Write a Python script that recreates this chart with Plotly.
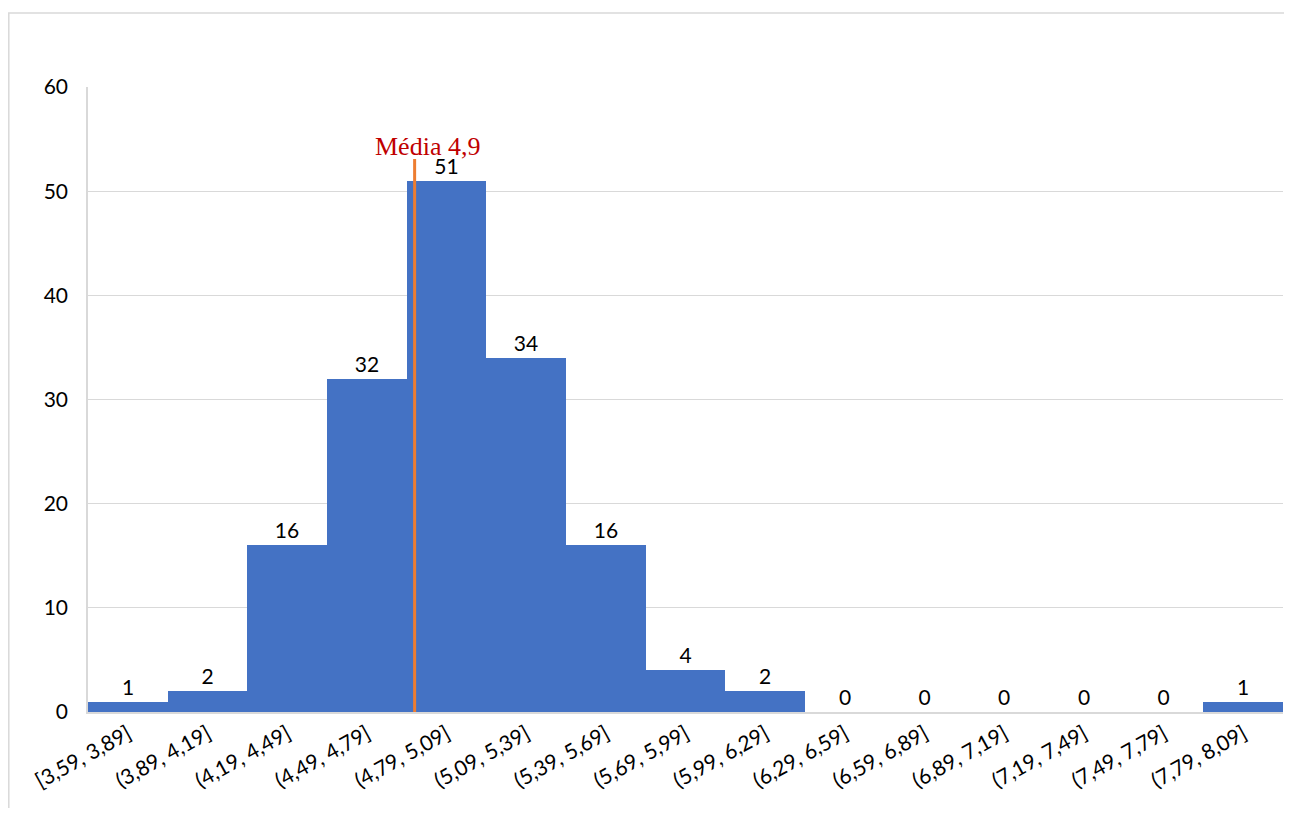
import plotly.graph_objects as go

categories = ["[3,59, 3,89]", "(3,89, 4,19]", "(4,19, 4,49]", "(4,49, 4,79]", "(4,79, 5,09]",
              "(5,09, 5,39]", "(5,39, 5,69]", "(5,69, 5,99]", "(5,99, 6,29]", "(6,29, 6,59]",
              "(6,59, 6,89]", "(6,89, 7,19]", "(7,19, 7,49]", "(7,49, 7,79]", "(7,79, 8,09]"]
counts = [1, 2, 16, 32, 51, 34, 16, 4, 2, 0, 0, 0, 0, 0, 1]
mean_label = "Média 4,9"
mean_pos = 3.6  # position along the category axis (bin index units)
y_ticks = [0, 10, 20, 30, 40, 50, 60]

n = len(counts)
xs = list(range(n))

W, H = 1276, 800
L, R, T, B = 80, 1, 79, 96
pw, ph = W - L - R, H - T - B

fig = go.Figure()
fig.add_trace(go.Bar(
    x=xs, y=counts, width=1.0,
    marker=dict(color="#4472C4", line=dict(width=0)),
    text=[str(v) for v in counts], textposition="outside",
    textfont=dict(color="#000000", size=21, family="Lato"),
    cliponaxis=False,
))

fig.add_shape(type="line", xref="x", yref="y", x0=mean_pos, x1=mean_pos, y0=-0.93, y1=53.1,
              line=dict(color="#ED7D31", width=3))
fig.add_annotation(x=mean_pos + 0.16, y=54.3, xref="x", yref="y", text=mean_label, showarrow=False,
                   font=dict(family="Liberation Serif", size=26, color="#C00000"))

# outer chart border
fig.add_shape(type="rect", xref="paper", yref="paper",
              x0=(0.8 - L) / pw, x1=1.05, y0=-0.3, y1=(ph + T - 5) / ph,
              line=dict(color="#D9D9D9", width=1.5), fillcolor="rgba(0,0,0,0)", layer="below")

fig.update_layout(
    width=W, height=H,
    margin=dict(l=L, r=R, t=T, b=B, autoexpand=False),
    paper_bgcolor="white", plot_bgcolor="white",
    showlegend=False, bargap=0,
    font=dict(family="Lato", size=21, color="#000000"),
    xaxis=dict(tickmode="array", tickvals=xs, ticktext=categories, tickangle=-29,
               range=[-0.5, n - 0.5], showgrid=False, showline=True, linecolor="#D9D9D9",
               linewidth=1.5, ticks="", tickfont=dict(size=21, family="Lato"), zeroline=False,
               automargin=False),
    yaxis=dict(range=[0, 60], tickvals=y_ticks, showgrid=True, gridcolor="#D9D9D9", gridwidth=1.3,
               showline=True, linecolor="#D9D9D9", linewidth=1.5, zeroline=False, ticks="",
               ticklabelstandoff=14, tickfont=dict(size=21, family="Lato"), automargin=False),
)

fig.write_html("out.html")
